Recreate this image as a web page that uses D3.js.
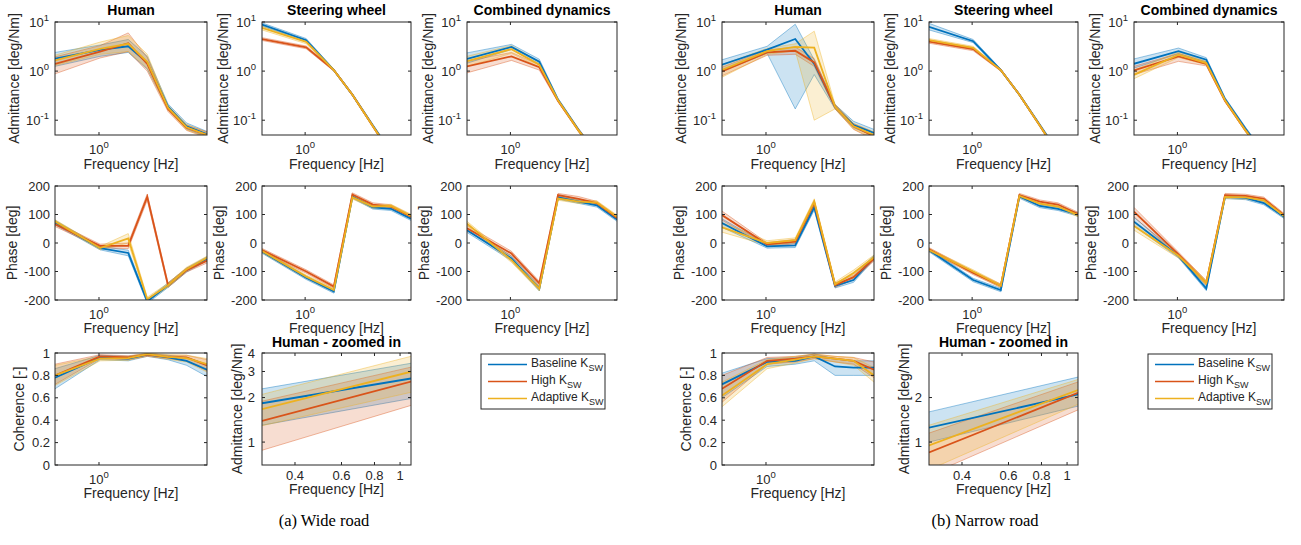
<!DOCTYPE html>
<html><head><meta charset="utf-8">
<script src="https://cdn.jsdelivr.net/npm/d3@7"></script>
<style>body{margin:0;background:#fff}text{font-family:"Liberation Sans",Arial,Helvetica,sans-serif;fill:#262626}</style>
</head><body><svg id="c" width="1301" height="545"></svg>
<script>
// ---------------- data ----------------
const freqs = [0.45, 1.02, 1.7, 2.4, 3.5, 4.9, 7.1];
const zoomFreqs = [0.3, 1.1];
const seriesLabels = ["Baseline K", "High K", "Adaptive K"];
const seriesSub = "SW";
const colors = ["#0072BD", "#D95319", "#EDB120"];
const plotTitles = ["Human", "Steering wheel", "Combined dynamics", "Human - zoomed in"];
const captions = ["(a) Wide road", "(b) Narrow road"];
const admTicks = [0.1, 1, 10];
const admTickLabels = [["10","-1"], ["10","0"], ["10","1"]];
const phaseTicks = [-200, -100, 0, 100, 200];
const cohTicks = [0, 0.2, 0.4, 0.6, 0.8, 1];
const cohTickLabels = ["0", "0.2", "0.4", "0.6", "0.8", "1"];
const freqTicks = [1];
const zoomXTicks = [0.4, 0.6, 0.8, 1];
const zoomXTickLabels = ["0.4", "0.6", "0.8", "1"];
const zoomYTicksWide = [1, 2, 3, 4];
const zoomYTicksNarrow = [1, 2];

// Wide road
const wideHumAdmB = {m:[1.8,2.7,3.2,1.5,0.19,0.075,0.052], lo:[1.25,2.0,2.4,1.1,0.17,0.066,0.046], hi:[2.4,3.4,4.4,2.0,0.215,0.088,0.059]};
const wideHumAdmH = {m:[1.4,2.5,3.7,1.4,0.17,0.07,0.05], lo:[0.88,1.85,2.5,1.0,0.15,0.062,0.044], hi:[1.95,3.3,6.0,1.9,0.19,0.08,0.058]};
const wideHumAdmA = {m:[1.65,2.85,3.6,1.55,0.18,0.072,0.05], lo:[1.3,2.2,2.5,1.15,0.16,0.064,0.045], hi:[2.1,3.9,5.3,2.2,0.2,0.082,0.056]};
const wideSteAdmB = {m:[8.9,4.25,1.05,0.33,0.078,0.022,0.008], lo:[8.2,3.95,1.0,0.315,0.074,0.02,0.007], hi:[9.6,4.6,1.1,0.35,0.083,0.024,0.009]};
const wideSteAdmH = {m:[4.5,3.05,1.05,0.33,0.076,0.021,0.008], lo:[4.2,2.85,1.0,0.315,0.072,0.019,0.007], hi:[4.8,3.25,1.1,0.345,0.08,0.023,0.009]};
const wideSteAdmA = {m:[7.6,3.95,1.05,0.33,0.076,0.021,0.008], lo:[6.9,3.6,1.0,0.315,0.072,0.019,0.007], hi:[8.3,4.3,1.1,0.345,0.08,0.023,0.009]};
const wideComAdmB = {m:[1.77,3.1,1.55,0.26,0.063,0.02,0.007], lo:[1.45,2.75,1.4,0.245,0.06,0.018,0.006], hi:[2.35,3.5,1.75,0.28,0.068,0.022,0.008]};
const wideComAdmH = {m:[1.25,2.0,1.2,0.25,0.062,0.02,0.007], lo:[0.92,1.65,1.05,0.235,0.058,0.018,0.006], hi:[1.6,2.4,1.35,0.265,0.066,0.022,0.008]};
const wideComAdmA = {m:[1.6,2.8,1.35,0.255,0.062,0.02,0.007], lo:[1.25,2.3,1.2,0.24,0.058,0.018,0.006], hi:[2.0,3.3,1.55,0.27,0.066,0.022,0.008]};
const wideHumPhB = {m:[72,-18,-35,-205,-148,-95,-55], lo:[64,-24,-45,-212,-156,-102,-62], hi:[80,-12,-25,-198,-140,-88,-48]};
const wideHumPhH = {m:[66,-10,-10,162,-148,-95,-62], lo:[58,-16,-20,150,-156,-102,-70], hi:[74,-4,0,172,-140,-88,-54]};
const wideHumPhA = {m:[76,-18,16,-197,-148,-92,-52], lo:[70,-24,0,-204,-155,-99,-58], hi:[82,-12,33,-190,-141,-85,-46]};
const wideStePhB = {m:[-30,-122,-170,163,125,120,85], lo:[-36,-128,-176,157,119,114,79], hi:[-24,-116,-164,169,131,126,91]};
const wideStePhH = {m:[-25,-100,-153,170,135,128,92], lo:[-31,-106,-159,164,129,122,86], hi:[-19,-94,-147,176,141,134,98]};
const wideStePhA = {m:[-28,-118,-165,160,128,130,95], lo:[-34,-124,-171,154,122,124,89], hi:[-22,-112,-159,166,134,136,101]};
const wideComPhB = {m:[45,-54,-160,160,145,132,82], lo:[37,-62,-168,154,139,126,76], hi:[53,-46,-152,166,151,138,88]};
const wideComPhH = {m:[52,-37,-142,168,155,140,88], lo:[42,-45,-150,162,147,134,82], hi:[62,-29,-134,174,163,146,94]};
const wideComPhA = {m:[68,-60,-160,156,145,142,92], lo:[60,-68,-168,150,139,136,86], hi:[76,-52,-152,162,151,148,98]};
const wideCohB = {m:[0.78,0.96,0.95,0.985,0.96,0.93,0.85], lo:[0.68,0.94,0.93,0.97,0.94,0.89,0.79], hi:[0.86,0.98,0.97,0.995,0.98,0.96,0.9]};
const wideCohH = {m:[0.8,0.97,0.96,0.985,0.965,0.96,0.89], lo:[0.72,0.95,0.94,0.97,0.95,0.93,0.84], hi:[0.9,0.985,0.975,0.995,0.98,0.98,0.94]};
const wideCohA = {m:[0.8,0.95,0.955,0.99,0.965,0.955,0.9], lo:[0.71,0.93,0.935,0.975,0.945,0.92,0.83], hi:[0.89,0.97,0.97,1.0,0.985,0.98,0.95]};
const wideZoomB = {m:[1.83,2.69], lo:[1.30,1.97], hi:[2.29,3.41]};
const wideZoomH = {m:[1.39,2.56], lo:[0.88,1.77], hi:[1.89,3.21]};
const wideZoomA = {m:[1.67,2.99], lo:[1.29,2.17], hi:[2.1,3.8]};

// Narrow road
const narHumAdmB = {m:[1.35,2.74,4.5,1.4,0.19,0.08,0.055], lo:[1.0,2.3,0.17,0.85,0.17,0.07,0.048], hi:[1.7,3.2,9.0,1.7,0.21,0.095,0.065]};
const narHumAdmH = {m:[0.99,2.4,2.6,1.5,0.19,0.075,0.047], lo:[0.8,2.1,2.2,1.25,0.17,0.065,0.04], hi:[1.2,2.7,3.1,1.8,0.21,0.085,0.056]};
const narHumAdmA = {m:[1.06,2.55,3.1,3.0,0.19,0.075,0.05], lo:[0.75,2.2,2.6,0.1,0.17,0.066,0.043], hi:[1.35,2.9,3.6,6.5,0.21,0.086,0.058]};
const narSteAdmB = {m:[8.0,4.07,1.05,0.33,0.08,0.022,0.008], lo:[6.9,3.8,1.0,0.315,0.076,0.02,0.007], hi:[9.4,4.4,1.1,0.35,0.085,0.024,0.009]};
const narSteAdmH = {m:[4.0,2.8,1.05,0.33,0.078,0.021,0.008], lo:[3.7,2.6,1.0,0.315,0.074,0.019,0.007], hi:[4.3,3.0,1.1,0.345,0.082,0.023,0.009]};
const narSteAdmA = {m:[4.27,2.97,1.05,0.33,0.078,0.021,0.008], lo:[3.95,2.75,1.0,0.315,0.074,0.019,0.007], hi:[4.6,3.2,1.1,0.345,0.082,0.023,0.009]};
const narComAdmB = {m:[1.41,2.54,1.71,0.27,0.067,0.021,0.008], lo:[1.15,2.25,1.55,0.255,0.063,0.019,0.007], hi:[1.77,2.95,1.88,0.29,0.072,0.023,0.009]};
const narComAdmH = {m:[1.03,2.0,1.4,0.25,0.062,0.02,0.007], lo:[0.85,1.58,1.28,0.235,0.058,0.018,0.006], hi:[1.25,2.3,1.52,0.265,0.066,0.022,0.008]};
const narComAdmA = {m:[0.84,2.17,1.46,0.255,0.062,0.02,0.007], lo:[0.7,1.9,1.35,0.24,0.058,0.018,0.006], hi:[1.05,2.45,1.58,0.27,0.066,0.022,0.008]};
const narHumPhB = {m:[70,-12,-8,125,-150,-130,-50], lo:[55,-18,-16,115,-158,-138,-58], hi:[85,-6,0,135,-142,-122,-42]};
const narHumPhH = {m:[98,-5,5,140,-148,-120,-55], lo:[80,-11,-3,130,-156,-128,-63], hi:[112,1,13,150,-140,-112,-47]};
const narHumPhA = {m:[55,0,10,145,-145,-105,-50], lo:[38,-8,2,135,-153,-115,-58], hi:[72,8,18,155,-137,-95,-42]};
const narStePhB = {m:[-25,-130,-165,163,130,120,100], lo:[-31,-136,-171,157,124,114,94], hi:[-19,-124,-159,169,136,126,106]};
const narStePhH = {m:[-22,-105,-150,168,145,135,102], lo:[-28,-111,-156,162,139,129,96], hi:[-16,-99,-144,174,151,141,108]};
const narStePhA = {m:[-25,-100,-150,165,138,128,98], lo:[-31,-106,-156,159,132,122,92], hi:[-19,-94,-144,171,144,134,104]};
const narComPhB = {m:[75,-45,-160,162,158,140,92], lo:[60,-52,-167,156,152,134,86], hi:[90,-38,-153,168,164,146,98]};
const narComPhH = {m:[110,-40,-140,168,165,155,98], lo:[92,-48,-148,162,159,149,92], hi:[125,-32,-132,174,171,161,104]};
const narComPhA = {m:[60,-45,-140,162,160,150,95], lo:[45,-53,-148,156,154,144,89], hi:[75,-37,-132,168,166,156,101]};
const narCohB = {m:[0.72,0.92,0.93,0.97,0.88,0.87,0.87], lo:[0.6,0.88,0.9,0.93,0.8,0.8,0.8], hi:[0.82,0.95,0.96,0.99,0.95,0.93,0.93]};
const narCohH = {m:[0.68,0.93,0.95,0.97,0.95,0.93,0.85], lo:[0.56,0.9,0.92,0.95,0.92,0.9,0.78], hi:[0.8,0.96,0.97,0.99,0.97,0.96,0.92]};
const narCohA = {m:[0.62,0.9,0.94,0.97,0.95,0.93,0.8], lo:[0.52,0.86,0.91,0.95,0.92,0.89,0.74], hi:[0.74,0.94,0.97,0.99,0.97,0.96,0.87]};
const narZoomB = {m:[1.25,2.1], lo:[1.0,1.75], hi:[1.6,2.75]};
const narZoomH = {m:[0.85,2.15], lo:[0.6,1.65], hi:[1.15,2.55]};
const narZoomA = {m:[0.95,2.25], lo:[0.65,1.8], hi:[1.3,2.65]};

// ---------------- drawing ----------------
const svg = d3.select("#c");
let clipN = 0;
const TXT = "#262626";

function addSup(t, base, exp) {
  t.append("tspan").text(base);
  t.append("tspan").attr("dy", -6).attr("font-size", "9.5px").text(exp);
}

function plot(o) {
  const x = o.x.copy().range([o.L, o.L + o.W]);
  const y = o.y.copy().range([o.T + o.H, o.T]);
  const id = "cp" + (clipN++);
  svg.append("clipPath").attr("id", id).append("rect")
    .attr("x", o.L).attr("y", o.T).attr("width", o.W).attr("height", o.H);
  const pg = svg.append("g").attr("clip-path", `url(#${id})`);
  const idx = d3.range(o.xs.length);
  o.series.forEach((s, k) => {
    pg.append("path").datum(idx)
      .attr("d", d3.area().x(i => x(o.xs[i])).y0(i => y(s.lo[i])).y1(i => y(s.hi[i])))
      .attr("fill", colors[k]).attr("fill-opacity", 0.2);
    ["lo", "hi"].forEach(key => {
      pg.append("path").datum(idx)
        .attr("d", d3.line().x(i => x(o.xs[i])).y(i => y(s[key][i])))
        .attr("fill", "none").attr("stroke", colors[k]).attr("stroke-opacity", 0.4).attr("stroke-width", 1);
    });
  });
  o.series.forEach((s, k) => {
    pg.append("path").datum(idx)
      .attr("d", d3.line().x(i => x(o.xs[i])).y(i => y(s.m[i])))
      .attr("fill", "none").attr("stroke", colors[k]).attr("stroke-width", 1.8);
  });
  const ax = svg.append("g");
  const tl = 3;
  o.xTicks.forEach(t => {
    const px = x(t);
    ax.append("line").attr("x1", px).attr("x2", px).attr("y1", o.T + o.H).attr("y2", o.T + o.H - tl).attr("stroke", TXT);
    ax.append("line").attr("x1", px).attr("x2", px).attr("y1", o.T).attr("y2", o.T + tl).attr("stroke", TXT);
  });
  o.yTicks.forEach(t => {
    const py = y(t);
    ax.append("line").attr("x1", o.L).attr("x2", o.L + tl).attr("y1", py).attr("y2", py).attr("stroke", TXT);
    ax.append("line").attr("x1", o.L + o.W).attr("x2", o.L + o.W - tl).attr("y1", py).attr("y2", py).attr("stroke", TXT);
  });
  ax.append("rect").attr("x", o.L).attr("y", o.T).attr("width", o.W).attr("height", o.H)
    .attr("fill", "none").attr("stroke", TXT).attr("stroke-width", 1);
  o.xTicks.forEach((t, i) => {
    const tx = ax.append("text").attr("x", x(t)).attr("y", o.T + o.H + o.xtOff)
      .attr("text-anchor", "middle").attr("font-size", "13px");
    const lab = o.xLabels[i];
    if (Array.isArray(lab)) addSup(tx, lab[0], lab[1]); else tx.text(lab);
  });
  o.yTicks.forEach((t, i) => {
    const tx = ax.append("text").attr("x", o.L - o.ytGap).attr("y", y(t) + 4.5)
      .attr("text-anchor", "end").attr("font-size", "13px");
    const lab = o.yLabels[i];
    if (Array.isArray(lab)) addSup(tx, lab[0], lab[1]); else tx.text(lab);
  });
  ax.append("text").attr("x", o.L + o.W / 2).attr("y", o.T + o.H + o.xlOff)
    .attr("text-anchor", "middle").attr("font-size", "14px").text("Frequency [Hz]");
  ax.append("text").attr("transform", `translate(${o.L - o.ylOff},${o.T + o.H / 2}) rotate(-90)`)
    .attr("text-anchor", "middle").attr("font-size", "14px").text(o.ylabel);
  if (o.title) {
    ax.append("text").attr("x", o.L + o.W / 2).attr("y", o.T - o.tOff)
      .attr("text-anchor", "middle").attr("font-size", "14px").attr("font-weight", "bold")
      .style("fill", "#000").text(o.title);
  }
}

const cols = [[55, 152], [262, 149], [467, 150]];
const rows = [[22, 113], [186, 114], [353, 112]];
const xMain = d3.scaleLog().domain([0.45, 7.1]);
const yAdm = d3.scaleLog().domain([0.05, 10]);
const yPh = d3.scaleLinear().domain([-200, 200]);
const yCoh = d3.scaleLinear().domain([0, 1]);
const xZoom = d3.scaleLog().domain([0.3, 1.1]);
const yZoom = d3.scaleLog().domain([0.7, 4]);

const panels = [
  {dx: 0, caption: captions[0],
   adm: [[wideHumAdmB, wideHumAdmH, wideHumAdmA], [wideSteAdmB, wideSteAdmH, wideSteAdmA], [wideComAdmB, wideComAdmH, wideComAdmA]],
   ph: [[wideHumPhB, wideHumPhH, wideHumPhA], [wideStePhB, wideStePhH, wideStePhA], [wideComPhB, wideComPhH, wideComPhA]],
   coh: [wideCohB, wideCohH, wideCohA], zoom: [wideZoomB, wideZoomH, wideZoomA], zTicks: zoomYTicksWide},
  {dx: 667, caption: captions[1],
   adm: [[narHumAdmB, narHumAdmH, narHumAdmA], [narSteAdmB, narSteAdmH, narSteAdmA], [narComAdmB, narComAdmH, narComAdmA]],
   ph: [[narHumPhB, narHumPhH, narHumPhA], [narStePhB, narStePhH, narStePhA], [narComPhB, narComPhH, narComPhA]],
   coh: [narCohB, narCohH, narCohA], zoom: [narZoomB, narZoomH, narZoomA], zTicks: zoomYTicksNarrow}
];

panels.forEach(p => {
  for (let c = 0; c < 3; c++) {
    const L = cols[c][0] + p.dx, W = cols[c][1];
    plot({L, W, T: rows[0][0], H: rows[0][1], x: xMain, y: yAdm, xs: freqs, series: p.adm[c],
      xTicks: freqTicks, xLabels: [["10", "0"]], yTicks: admTicks, yLabels: admTickLabels,
      xtOff: 19, xlOff: 34, ylOff: c === 0 ? 36 : 34, ytGap: 6, ylabel: "Admittance [deg/Nm]",
      title: plotTitles[c], tOff: 7});
    plot({L, W, T: rows[1][0], H: rows[1][1], x: xMain, y: yPh, xs: freqs, series: p.ph[c],
      xTicks: freqTicks, xLabels: [["10", "0"]], yTicks: phaseTicks, yLabels: phaseTicks.map(String),
      xtOff: 18.5, xlOff: 33, ylOff: 38, ytGap: 5, ylabel: "Phase [deg]"});
  }
  plot({L: cols[0][0] + p.dx, W: cols[0][1], T: rows[2][0], H: rows[2][1], x: xMain, y: yCoh, xs: freqs, series: p.coh,
    xTicks: freqTicks, xLabels: [["10", "0"]], yTicks: cohTicks, yLabels: cohTickLabels,
    xtOff: 18.5, xlOff: 33, ylOff: 31, ytGap: 5, ylabel: "Coherence [-]"});
  plot({L: cols[1][0] + p.dx, W: cols[1][1], T: rows[2][0], H: rows[2][1], x: xZoom, y: yZoom, xs: zoomFreqs, series: p.zoom,
    xTicks: zoomXTicks, xLabels: zoomXTickLabels, yTicks: p.zTicks, yLabels: p.zTicks.map(String),
    xtOff: 15, xlOff: 29, ylOff: 20, ytGap: 7, ylabel: "Admittance [deg/Nm]",
    title: plotTitles[3], tOff: 6});
  const lg = svg.append("g");
  const lx = 481 + p.dx, ly = 354;
  lg.append("rect").attr("x", lx).attr("y", ly).attr("width", 124).attr("height", 55)
    .attr("fill", "#fff").attr("stroke", TXT).attr("stroke-width", 1);
  seriesLabels.forEach((s, k) => {
    const yy = 364.5 + k * 17;
    lg.append("line").attr("x1", lx + 7).attr("x2", lx + 46).attr("y1", yy).attr("y2", yy)
      .attr("stroke", colors[k]).attr("stroke-width", 1.6);
    const t = lg.append("text").attr("x", lx + 50).attr("y", yy + 2).attr("font-size", "12px");
    t.append("tspan").text(s);
    t.append("tspan").attr("dy", 4).attr("font-size", "9px").text(seriesSub);
  });
  svg.append("text").attr("x", 324 + p.dx - (p.dx ? 6 : 0)).attr("y", 526).attr("text-anchor", "middle")
    .style("font-family", "'Liberation Serif','Times New Roman',serif").style("fill", "#000")
    .attr("font-size", "16.5px").text(p.caption);
});
</script></body></html>
